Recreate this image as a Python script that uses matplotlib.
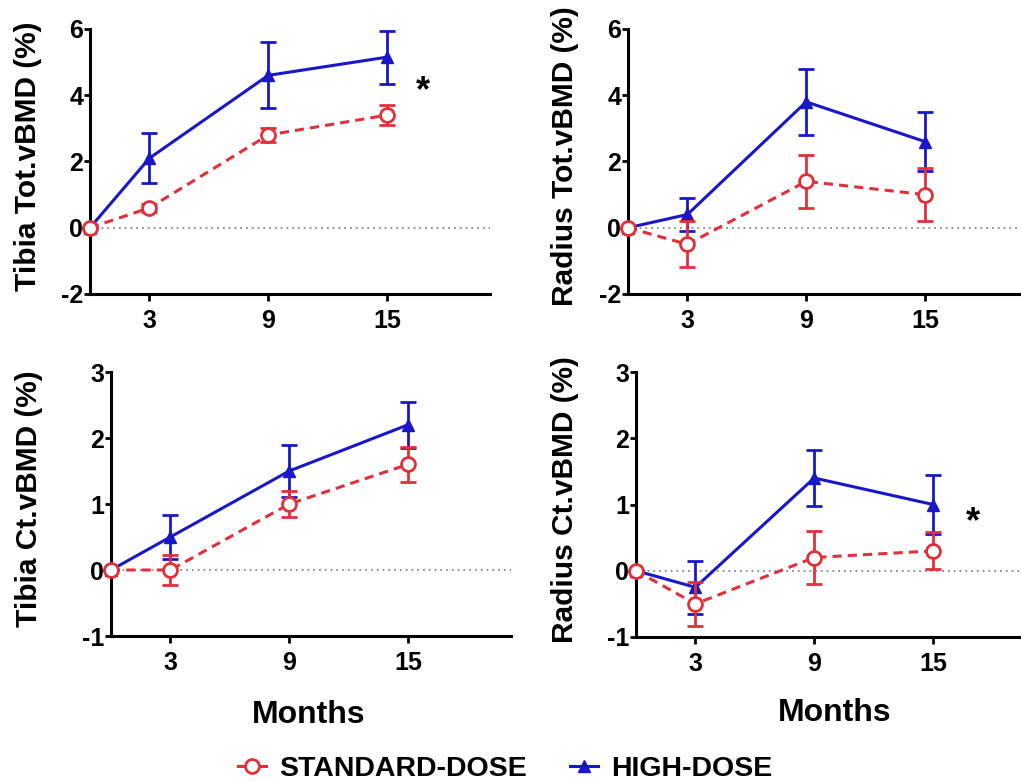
import matplotlib
matplotlib.use("Agg")
import matplotlib.pyplot as plt
from matplotlib.lines import Line2D

plt.rcParams['font.family'] = ['Liberation Sans', 'DejaVu Sans']
plt.rcParams['font.weight'] = 'bold'

months = [0, 3, 9, 15]
xticks = [3, 9, 15]

# Tibia Tot.vBMD
tt_std = [0, 0.6, 2.8, 3.4]
tt_std_err = [0, 0.12, 0.2, 0.3]
tt_high = [0, 2.1, 4.6, 5.15]
tt_high_err = [0, 0.75, 1.0, 0.8]
# Radius Tot.vBMD
rt_std = [0, -0.5, 1.4, 1.0]
rt_std_err = [0, 0.7, 0.8, 0.8]
rt_high = [0, 0.4, 3.8, 2.6]
rt_high_err = [0, 0.5, 1.0, 0.9]
# Tibia Ct.vBMD
tc_std = [0, 0.0, 1.0, 1.6]
tc_std_err = [0, 0.22, 0.2, 0.27]
tc_high = [0, 0.5, 1.5, 2.2]
tc_high_err = [0, 0.33, 0.4, 0.35]
# Radius Ct.vBMD
rc_std = [0, -0.5, 0.2, 0.3]
rc_std_err = [0, 0.33, 0.4, 0.28]
rc_high = [0, -0.25, 1.4, 1.0]
rc_high_err = [0, 0.4, 0.43, 0.45]

ylabels = ["Tibia Tot.vBMD (%)", "Radius Tot.vBMD (%)",
           "Tibia Ct.vBMD (%)", "Radius Ct.vBMD (%)"]
yticks_top = [-2, 0, 2, 4, 6]
yticks_bot = [-1, 0, 1, 2, 3]
star_tl = (16.8, 4.1)
star_br = (17.0, 0.72)

RED = '#e2303a'
BLUE = '#1818c8'

W, H = 1021, 782
fig = plt.figure(figsize=(W / 100, H / 100), dpi=100)

def px_axes(left, top, bottom, right_w=400):
    return fig.add_axes([left / W, 1 - bottom / H, right_w / W, (bottom - top) / H])

axes = [
    px_axes(90, 29, 294),
    px_axes(628, 29, 294),
    px_axes(111, 372, 636),
    px_axes(636, 372, 637),
]

panels = [
    (tt_std, tt_std_err, tt_high, tt_high_err, yticks_top),
    (rt_std, rt_std_err, rt_high, rt_high_err, yticks_top),
    (tc_std, tc_std_err, tc_high, tc_high_err, yticks_bot),
    (rc_std, rc_std_err, rc_high, rc_high_err, yticks_bot),
]
label_x = [-0.155, -0.1575, -0.205, -0.1775]

for i, (ax, (s, se, h, he, yt)) in enumerate(zip(axes, panels)):
    ax.set_xlim(0, 20.2)
    ax.set_ylim(yt[0], yt[-1])
    ax.axhline(0, color='#888888', lw=1.3, ls=(0, (1, 2.2)), zorder=1)
    eb_h = ax.errorbar(months, h, yerr=he, color=BLUE, lw=2.2, marker='^',
                       ms=9, mfc=BLUE, mec=BLUE, capsize=5.5, capthick=2,
                       elinewidth=2, zorder=3, clip_on=False)
    eb_s = ax.errorbar(months, s, yerr=se, color=RED, lw=2.2, ls=(0, (3, 2)),
                       marker='o', ms=10, mfc='white', mec=RED, mew=2,
                       capsize=5.5, capthick=2, elinewidth=2, zorder=4,
                       clip_on=False)
    for eb in (eb_h, eb_s):
        for a in eb.get_children():
            a.set_clip_on(False)
    for sp in ('top', 'right'):
        ax.spines[sp].set_visible(False)
    for sp in ('left', 'bottom'):
        ax.spines[sp].set_linewidth(2.2)
    ax.set_xticks(xticks)
    ax.set_xticklabels([str(t) for t in xticks], fontsize=18, fontweight='bold')
    ax.set_yticks(yt)
    ax.set_yticklabels([str(t) for t in yt], fontsize=18, fontweight='bold')
    ax.tick_params(axis='x', length=5, width=2, pad=5.5, direction='out')
    ax.tick_params(axis='y', length=4, width=2, pad=1, direction='out')
    ax.text(label_x[i], 0.52, ylabels[i], transform=ax.transAxes, rotation=90,
            ha='center', va='center', fontsize=21.5, fontweight='bold')

axes[0].text(star_tl[0], star_tl[1], '*', fontsize=26, fontweight='bold',
             ha='center', va='center')
axes[3].text(star_br[0], star_br[1], '*', fontsize=26, fontweight='bold',
             ha='center', va='center')

fig.text(309 / W, 1 - 715 / H, 'Months', fontsize=23, fontweight='bold',
         ha='center', va='center')
fig.text(835 / W, 1 - 713 / H, 'Months', fontsize=23, fontweight='bold',
         ha='center', va='center')

h_std = Line2D([], [], color=RED, lw=2.2, marker='o', ms=10, mfc='white',
               mec=RED, mew=2)
h_high = Line2D([], [], color=BLUE, lw=2.2, marker='^', ms=9, mfc=BLUE, mec=BLUE)
fig.legend([h_std, h_high], ['STANDARD-DOSE', 'HIGH-DOSE'], ncol=2,
           loc='center', bbox_to_anchor=(505 / W, 1 - 769 / H), frameon=False,
           prop={'size': 20.5, 'weight': 'bold'}, handlelength=1.0,
           handletextpad=0.45, columnspacing=1.5, borderpad=0)

fig.savefig('out.png', dpi=100)
